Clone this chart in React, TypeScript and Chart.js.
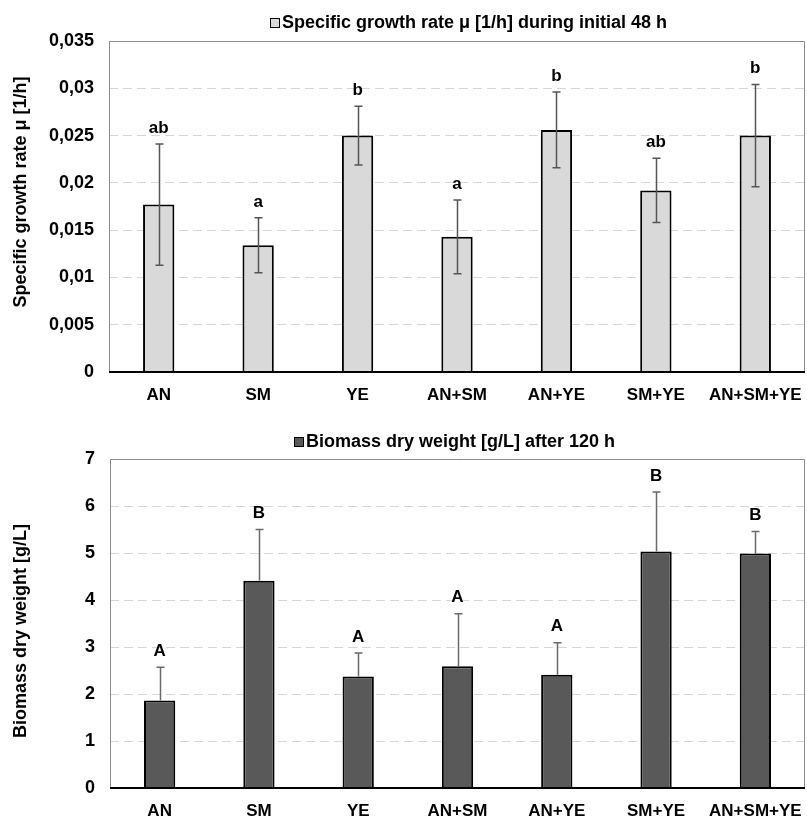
import React, { useEffect, useRef } from "react";
import { Chart, registerables } from "chart.js";

Chart.register(...registerables);

const categories = ["AN", "SM", "YE", "AN+SM", "AN+YE", "SM+YE", "AN+SM+YE"];

const growthRate = [0.0177, 0.0134, 0.025, 0.0143, 0.0256, 0.0192, 0.025];
const growthRateErr = [0.0064, 0.0029, 0.0031, 0.0039, 0.004, 0.0034, 0.0054];
const growthLetters = ["ab", "a", "b", "a", "b", "ab", "b"];
const growthTicks = ["0", "0,005", "0,01", "0,015", "0,02", "0,025", "0,03", "0,035"];

const biomass = [1.86, 4.41, 2.37, 2.59, 2.41, 5.03, 4.99];
const biomassErr = [0.71, 1.09, 0.5, 1.12, 0.68, 1.27, 0.47];
const biomassLetters = ["A", "B", "A", "A", "A", "B", "B"];
const biomassTicks = ["0", "1", "2", "3", "4", "5", "6", "7"];

const FONT = "'Liberation Sans', Arial, sans-serif";

type Spec = {
  key: string;
  legend: string;
  yTitle: string;
  values: number[];
  errors: number[];
  letters: string[];
  ticks: string[];
  step: number;
  max: number;
  fill: string;
  errColor: string;
  twoSided: boolean;
  top: number;
  height: number;
  padTop: number;
  yWidth: number;
  xHeight: number;
  legendX: number;
  legendY: number;
  yTitleX: number;
  yTitleY: number;
};

function makePlugin(s: Spec) {
  return {
    id: "custom_" + s.key,
    afterDatasetsDraw(chart: any) {
      const { ctx, chartArea: a, scales } = chart;
      const xs = scales.x;
      const ys = scales.y;
      ctx.save();
      // frame
      ctx.strokeStyle = "#8c8c8c";
      ctx.lineWidth = 1;
      ctx.beginPath();
      ctx.moveTo(a.left + 0.5, a.bottom);
      ctx.lineTo(a.left + 0.5, a.top + 0.5);
      ctx.lineTo(a.right - 0.5, a.top + 0.5);
      ctx.lineTo(a.right - 0.5, a.bottom);
      ctx.stroke();
      // error bars
      ctx.strokeStyle = s.errColor;
      ctx.lineWidth = 1.5;
      s.values.forEach((v, i) => {
        const cx = Math.round(xs.getPixelForValue(i)) + 0.5;
        const hi = ys.getPixelForValue(v + s.errors[i]);
        const lo = s.twoSided ? ys.getPixelForValue(v - s.errors[i]) : ys.getPixelForValue(v);
        ctx.beginPath();
        ctx.moveTo(cx, lo);
        ctx.lineTo(cx, hi);
        ctx.moveTo(cx - 4, hi);
        ctx.lineTo(cx + 4, hi);
        if (s.twoSided) {
          ctx.moveTo(cx - 4, lo);
          ctx.lineTo(cx + 4, lo);
        }
        ctx.stroke();
      });
      // axis line
      ctx.strokeStyle = "#000";
      ctx.lineWidth = 2;
      ctx.beginPath();
      ctx.moveTo(a.left, a.bottom);
      ctx.lineTo(a.right, a.bottom);
      ctx.stroke();
      // letters
      ctx.fillStyle = "#000";
      ctx.font = `bold 17px ${FONT}`;
      ctx.textAlign = "center";
      ctx.textBaseline = "middle";
      s.values.forEach((v, i) => {
        const cx = xs.getPixelForValue(i);
        const hi = ys.getPixelForValue(v + s.errors[i]);
        ctx.fillText(s.letters[i], cx, hi - 16);
      });
      // legend-like title
      ctx.font = `bold 18px ${FONT}`;
      ctx.fillStyle = s.fill;
      ctx.fillRect(s.legendX, s.legendY - 5, 10, 10);
      ctx.strokeStyle = "#000";
      ctx.lineWidth = 1;
      ctx.strokeRect(s.legendX + 0.5, s.legendY - 4.5, 9, 9);
      ctx.fillStyle = "#000";
      ctx.textAlign = "left";
      ctx.fillText(s.legend, s.legendX + 12, s.legendY);
      // y-axis title
      ctx.save();
      ctx.translate(s.yTitleX, s.yTitleY);
      ctx.rotate(-Math.PI / 2);
      ctx.textAlign = "center";
      ctx.fillText(s.yTitle, 0, 0);
      ctx.restore();
      ctx.restore();
    },
  };
}

function BarChart({ spec }: { spec: Spec }) {
  const ref = useRef<HTMLCanvasElement | null>(null);
  useEffect(() => {
    if (!ref.current) return;
    const s = spec;
    const chart = new Chart(ref.current, {
      type: "bar",
      data: {
        labels: categories,
        datasets: [
          {
            label: s.legend,
            data: s.values,
            backgroundColor: s.fill,
            borderColor: "#000",
            borderWidth: 2,
            barPercentage: 0.315,
            categoryPercentage: 1,
          },
        ],
      },
      options: {
        responsive: false,
        animation: false,
        devicePixelRatio: 1,
        layout: { padding: { top: s.padTop, right: 2, left: 0, bottom: 0 } },
        plugins: {
          legend: { display: false },
          tooltip: { enabled: false },
          title: { display: false },
        },
        scales: {
          x: {
            grid: { display: false, drawTicks: false },
            border: { display: false },
            ticks: {
              color: "#000",
              padding: 13,
              maxRotation: 0,
              autoSkip: false,
              font: { family: FONT, size: 17, weight: "bold" },
            },
            afterFit: (sc: any) => {
              sc.height = s.xHeight;
              sc.paddingLeft = 0;
              sc.paddingRight = 0;
            },
          },
          y: {
            min: 0,
            max: s.max,
            grid: {
              color: "#d6d6d6",
              lineWidth: 1,
              drawTicks: false,
            },
            border: { display: false, dash: [9, 5] },
            ticks: {
              stepSize: s.step,
              color: "#000",
              padding: 15,
              font: { family: FONT, size: 18, weight: "bold" },
              callback: (v: any) => s.ticks[Math.round(Number(v) / s.step)] ?? "",
            },
            title: { display: false },
            afterFit: (sc: any) => {
              sc.width = s.yWidth;
            },
          },
        },
      },
      plugins: [makePlugin(s)],
    } as any);
    return () => chart.destroy();
  }, [spec]);
  return (
    <canvas
      ref={ref}
      width={807}
      height={spec.height}
      style={{ position: "absolute", left: 0, top: spec.top, width: 807, height: spec.height, display: "block" }}
    />
  );
}

const topSpec: Spec = {
  key: "growth",
  legend: "Specific growth rate μ [1/h] during initial 48 h",
  yTitle: "Specific growth rate μ [1/h]",
  values: growthRate,
  errors: growthRateErr,
  letters: growthLetters,
  ticks: growthTicks,
  step: 0.005,
  max: 0.035,
  fill: "#d9d9d9",
  errColor: "#555555",
  twoSided: true,
  top: 0,
  height: 410,
  padTop: 41,
  yWidth: 109,
  xHeight: 38,
  legendX: 270,
  legendY: 23,
  yTitleX: 21,
  yTitleY: 192,
};

const bottomSpec: Spec = {
  key: "biomass",
  legend: "Biomass dry weight [g/L] after 120 h",
  yTitle: "Biomass dry weight [g/L]",
  values: biomass,
  errors: biomassErr,
  letters: biomassLetters,
  ticks: biomassTicks,
  step: 1,
  max: 7,
  fill: "#595959",
  errColor: "#6a6a6a",
  twoSided: false,
  top: 410,
  height: 409,
  padTop: 49,
  yWidth: 110,
  xHeight: 31,
  legendX: 294,
  legendY: 32,
  yTitleX: 21,
  yTitleY: 221,
};

export default function App() {
  return (
    <div style={{ position: "absolute", left: 0, top: 0, width: 807, height: 819, background: "#fff" }}>
      <BarChart spec={topSpec} />
      <BarChart spec={bottomSpec} />
    </div>
  );
}
